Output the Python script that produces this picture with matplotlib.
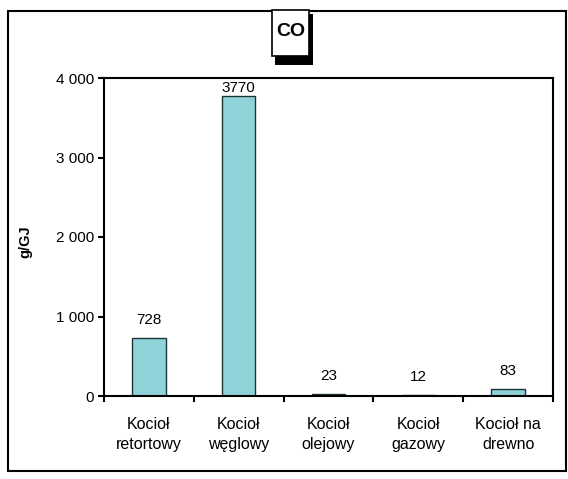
import matplotlib
matplotlib.use("Agg")
from matplotlib import pyplot as plt
from matplotlib.patches import Rectangle
import numpy as np

plt.rcParams['font.family'] = ['Liberation Sans', 'DejaVu Sans']

categories = ["Kocioł\nretortowy", "Kocioł\nwęglowy", "Kocioł\nolejowy", "Kocioł\ngazowy", "Kocioł na\ndrewno"]
values = [728, 3770, 23, 12, 83]
yticks = [0, 1000, 2000, 3000, 4000]
ytick_labels = ["0", "1 000", "2 000", "3 000", "4 000"]

W, H = 568, 479
fig = plt.figure(figsize=(W / 100, H / 100), dpi=100)


def px_rect(x0, y0, x1, y1, **kw):
    # rectangle given in pixel coords, y measured from the top
    return Rectangle((x0 / W, (H - y1) / H), (x1 - x0) / W, (y1 - y0) / H,
                     transform=fig.transFigure, **kw)


# outer chart frame
fig.patches.append(px_rect(8, 11, 566, 471, fill=False, edgecolor="black", linewidth=1.5))

ax = fig.add_axes([104 / W, 83 / H, 449 / W, 318 / H])
x = np.arange(len(values))
ax.bar(x, values, width=0.37, color="#8fd3d8", edgecolor="#1a3535", linewidth=1.0)

for xi, v in zip(x, values):
    ax.text(xi, min(v + 230, 3880), str(v), ha="center", va="center", fontsize=11)

ax.set_xlim(-0.5, len(values) - 0.5)
ax.set_ylim(0, 4000)
ax.set_yticks(yticks)
ax.set_yticklabels(ytick_labels, fontsize=11)
ax.set_xticks(x)
ax.set_xticklabels(categories, fontsize=11.5, linespacing=1.4)
ax.tick_params(axis="x", length=0, pad=15)
ax.set_xticks(np.arange(len(values) + 1) - 0.5, minor=True)
ax.tick_params(axis="x", which="minor", length=4, width=1.5, direction="out")
ax.tick_params(axis="y", length=4, width=1.5, direction="out", pad=3)
for s in ax.spines.values():
    s.set_linewidth(1.5)

fig.text(25 / W, (H - 242) / H, "g/GJ", rotation=90, ha="center", va="center",
         fontsize=10.5, fontweight="bold")

# title in a box with a drop shadow
fig.patches.append(px_rect(275, 14, 313, 65, facecolor="black", edgecolor="none"))
fig.patches.append(px_rect(272, 10, 309, 56, facecolor="white", edgecolor="black", linewidth=1.2))
fig.text(291 / W, (H - 32) / H, "CO", ha="center", va="center", fontsize=14, fontweight="bold")

fig.savefig("out.png", dpi=100)
